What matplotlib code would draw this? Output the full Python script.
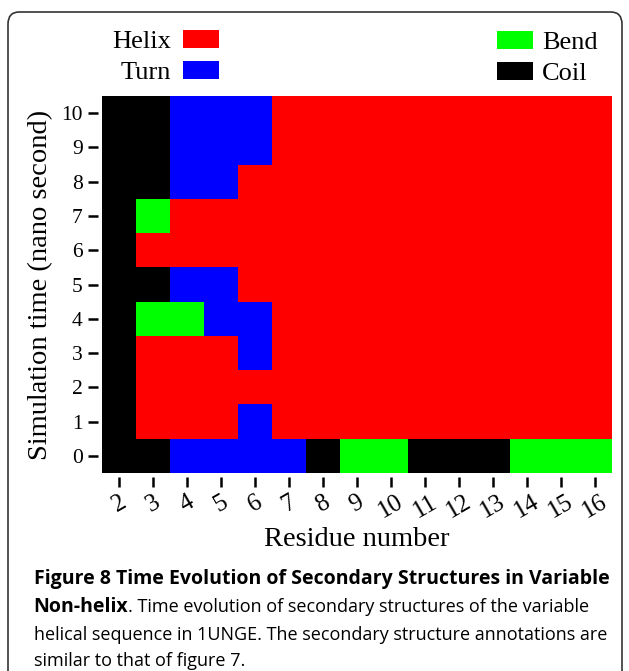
import matplotlib
matplotlib.use("Agg")
import matplotlib.pyplot as plt
import numpy as np
from matplotlib.colors import ListedColormap
from matplotlib.patches import Patch, FancyBboxPatch

# secondary structure per residue (2..16) at each time point (0..10 ns)
# C = coil, H = helix, T = turn, B = bend
residues = list(range(2, 17))
times = list(range(0, 11))
ss_rows = [
    "CCTTTTCBBCCCBBB",  # 0
    "CHHHTHHHHHHHHHH",  # 1
    "CHHHHHHHHHHHHHH",  # 2
    "CHHHTHHHHHHHHHH",  # 3
    "CBBTTHHHHHHHHHH",  # 4
    "CCTTHHHHHHHHHHH",  # 5
    "CHHHHHHHHHHHHHH",  # 6
    "CBHHHHHHHHHHHHH",  # 7
    "CCTTHHHHHHHHHHH",  # 8
    "CCTTTHHHHHHHHHH",  # 9
    "CCTTTHHHHHHHHHH",  # 10
]
ss_codes = ["C", "H", "T", "B"]
ss_names = ["Coil", "Helix", "Turn", "Bend"]
ss_colors = ["#000000", "#ff0000", "#0000ff", "#00ff00"]

grid = np.array([[ss_codes.index(c) for c in row] for row in ss_rows])

serif = "Liberation Serif"
plt.rcParams["font.family"] = serif
W, H = 629, 671
fig = plt.figure(figsize=(W / 100, H / 100), dpi=100)

# rounded frame around figure + caption
frame = FancyBboxPatch((8 / W, -0.05), (622 - 8) / W, (H - 12) / H + 0.05,
                       boxstyle="round,pad=0,rounding_size=0.018",
                       transform=fig.transFigure, fill=False,
                       edgecolor="#333333", linewidth=1.2, clip_on=False)
fig.patches.append(frame)

ax = fig.add_axes([102 / W, 1 - 473 / H, (612 - 102) / W, (473 - 96) / H])
cmap = ListedColormap(ss_colors)
edges_x = np.arange(len(residues) + 1) + residues[0] - 0.5
edges_y = np.arange(len(times) + 1) + times[0] - 0.5
ax.pcolormesh(edges_x, edges_y, grid, cmap=cmap, vmin=-0.5, vmax=3.5)

ax.set_xlim(edges_x[0], edges_x[-1])
ax.set_ylim(edges_y[0], edges_y[-1])
for s in ax.spines.values():
    s.set_visible(False)
ax.spines["bottom"].set_position(("outward", 3))
ax.spines["left"].set_position(("outward", 3))

ax.set_xticks(residues)
ax.set_xticklabels([str(r) for r in residues])
ax.set_yticks(times)
ax.set_yticklabels([str(t) for t in times])
for lab in ax.get_xticklabels():
    lab.set_fontfamily(serif)
    lab.set_fontsize(18)
    lab.set_rotation(30)
for lab in ax.get_yticklabels():
    lab.set_fontfamily(serif)
    lab.set_fontsize(15.5)
ax.tick_params(axis="both", length=7, width=1.8, color="black")
ax.tick_params(axis="x", pad=3)
ax.tick_params(axis="y", pad=4)

ax.set_xlabel("Residue number", fontsize=20.5, labelpad=3)
ax.set_ylabel("Simulation time (nano second)", fontsize=20.5, labelpad=6)

# legends: left column text-then-box, right column box-then-text
handles = {n: Patch(facecolor=c, edgecolor="none")
           for n, c in zip(ss_names, ss_colors)}
leg_kw = dict(frameon=False, handlelength=1.36, handleheight=0.7,
              labelspacing=0.3, borderpad=0, borderaxespad=0,
              loc="center left", prop={"family": serif, "size": 19})
fig.legend([handles["Helix"], handles["Turn"]], ["Helix", "Turn"],
           markerfirst=False, handletextpad=0.45,
           bbox_to_anchor=(112 / W, 1 - 57 / H), **leg_kw)
fig.legend([handles["Bend"], handles["Coil"]], ["Bend", "Coil"],
           markerfirst=True, handletextpad=0.35,
           bbox_to_anchor=(497 / W, 1 - 58 / H), **leg_kw)

# caption
cap = "Open Sans"
fs_b, fs_r = 14.0, 13.0
fig.text(34 / W, 1 - 579 / H,
         "Figure 8 Time Evolution of Secondary Structures in Variable",
         fontfamily=cap, fontweight="bold", fontsize=fs_b, va="center")
t1 = fig.text(33 / W, 1 - 607 / H, "Non-helix", fontfamily=cap,
              fontweight="bold", fontsize=fs_b, va="center")
fig.canvas.draw()
bb = t1.get_window_extent()
fig.text(bb.x1 / W, 1 - 607 / H,
         ". Time evolution of secondary structures of the variable",
         fontfamily=cap, fontsize=fs_r, va="center")
fig.text(34 / W, 1 - 635 / H,
         "helical sequence in 1UNGE. The secondary structure annotations are",
         fontfamily=cap, fontsize=fs_r, va="center")
fig.text(34 / W, 1 - 661 / H, "similar to that of figure 7.",
         fontfamily=cap, fontsize=fs_r, va="center")

fig.savefig("out.png", dpi=100)
